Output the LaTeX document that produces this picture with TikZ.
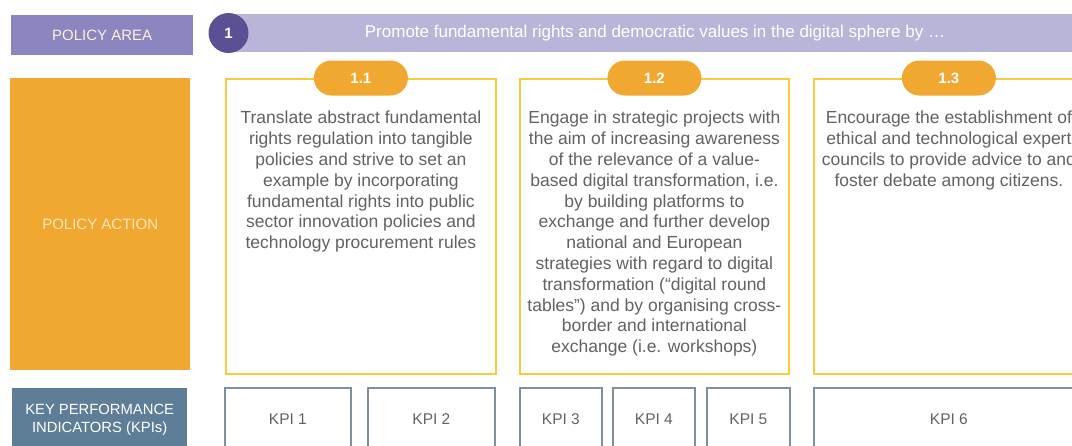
\documentclass[tikz,border=0pt]{standalone}
\usepackage{fontspec}
\setmainfont{Liberation Sans}
\definecolor{areabox}{HTML}{8C86C0}
\definecolor{banner}{HTML}{B9B5D8}
\definecolor{circ}{HTML}{5C5095}
\definecolor{orng}{HTML}{F0A830}
\definecolor{cream}{HTML}{FBE6C0}
\definecolor{ylw}{HTML}{F4CC3C}
\definecolor{kpiblue}{HTML}{5E7D96}
\definecolor{kpiline}{HTML}{7E8F9E}
\definecolor{txt}{HTML}{626262}
\tikzset{
  lbl/.style={fill=#1, draw=none, inner sep=0pt, anchor=north west},
  actbox/.style={draw=ylw, line width=1.8pt, fill=white, inner sep=0pt, anchor=north west, minimum width=270pt, minimum height=295pt},
  pill/.style={fill=orng, text=white, font=\fontsize{15}{18}\selectfont\bfseries, minimum width=94pt, minimum height=35pt, rounded corners=17.5pt, inner sep=0pt},
  acttext/.style={text=txt, font=\fontsize{17.5}{20.8}\selectfont, align=center, anchor=north, inner sep=0pt},
  kpibox/.style={draw=kpiline, line width=1.8pt, fill=white, inner sep=0pt, anchor=north west, minimum height=80pt, text=txt, font=\fontsize{15.5}{18}\selectfont},
}
\begin{document}
\begin{tikzpicture}[x=1pt,y=-1pt]
\useasboundingbox[fill=white] (0,0) rectangle (1072,445);
\clip (0,0) rectangle (1072,445);
% row labels
\node[lbl=areabox, minimum width=182pt, minimum height=40pt, text=cream!60!white, font=\fontsize{15}{18}\selectfont] (area) at (11,15) {POLICY AREA};
\node[lbl=orng, minimum width=180pt, minimum height=292pt, text=cream, font=\fontsize{15}{18}\selectfont] (action) at (10,78) {POLICY ACTION};
\node[lbl=kpiblue, minimum width=175pt, minimum height=80pt, text=white, align=center, text depth=20pt, font=\fontsize{14.8}{18}\selectfont] (kpil) at (12,388) {KEY PERFORMANCE\\INDICATORS (KPIs)};
% banner
\node[lbl=banner, minimum width=850pt, minimum height=38pt] (ban) at (228,14) {};
\node[text=white, font=\fontsize{17}{18}\selectfont, anchor=center] (bantext) at (655,33) {Promote fundamental rights and democratic values in the digital sphere by …};
\node[circle, fill=circ, minimum size=40pt, inner sep=0pt, text=white, font=\fontsize{15}{18}\selectfont\bfseries] (c1) at (228.5,33) {1};
% action boxes
\node[actbox] (b1) at (225,78) {};
\node[actbox, minimum width=269pt] (b2) at (519,78) {};
\node[actbox] (b3) at (813,78) {};
\node[pill] (p1) at (b1.north) {1.1};
\node[pill] (p2) at (b2.north) {1.2};
\node[pill] (p3) at (b3.north) {1.3};
\node[acttext] (t1) at ([yshift=-33pt]b1.north) {Translate abstract fundamental\\rights regulation into tangible\\policies and strive to set an\\example by incorporating\\fundamental rights into public\\sector innovation policies and\\technology procurement rules};
\node[acttext] (t2) at ([yshift=-33pt]b2.north) {Engage in strategic projects with\\the aim of increasing awareness\\of the relevance of a value-\\based digital transformation, i.e.\\by building platforms to\\exchange and further develop\\national and European\\strategies with regard to digital\\transformation (“digital round\\tables”) and by organising cross-\\border and international\\exchange (i.e. workshops)};
\node[acttext] (t3) at ([yshift=-33pt]b3.north) {Encourage the establishment of\\ethical and technological expert\\councils to provide advice to and\\foster debate among citizens.};
% KPI boxes
\node[kpibox, minimum width=126pt] (k1) at (224,387) {};
\node[kpibox, minimum width=127pt] (k2) at (367,387) {};
\node[kpibox, minimum width=82pt] (k3) at (519,387) {};
\node[kpibox, minimum width=82pt] (k4) at (612,387) {};
\node[kpibox, minimum width=83pt] (k5) at (706,387) {};
\node[kpibox, minimum width=270pt] (k6) at (813,387) {};
\foreach \k/\n in {k1/1,k2/2,k3/3,k4/4,k5/5,k6/6}{
  \node[text=txt, font=\fontsize{15.5}{18}\selectfont, anchor=center] (\k t) at ([yshift=-32pt]\k.north) {KPI \n};
}
\end{tikzpicture}
\end{document}
